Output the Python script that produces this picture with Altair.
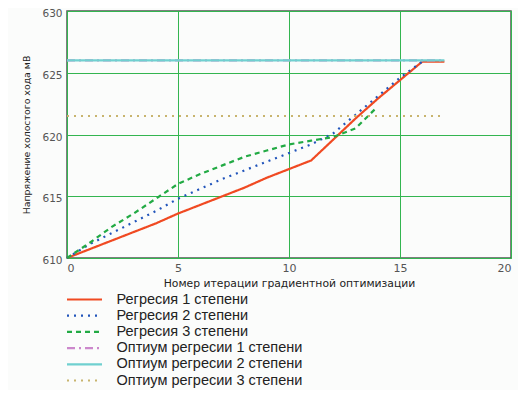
import altair as alt
import pandas as pd

# Series data
x_r1 = [0, 1, 2, 3, 4, 5, 6, 7, 8, 9, 10, 11, 12, 13, 14, 15, 16, 17]
y_r1 = [610.0, 610.7, 611.4, 612.1, 612.8, 613.6, 614.3, 615.0, 615.7, 616.5,
        617.2, 617.9, 619.6, 621.3, 622.9, 624.4, 625.9, 625.9]

x_r2 = [0, 1, 2, 3, 4, 5, 6, 7, 8, 9, 10, 11, 12, 13, 14, 15, 16]
y_r2 = [610.0, 611.1, 612.0, 612.9, 613.8, 614.8, 615.6, 616.4, 617.1, 617.8,
        618.5, 619.2, 620.1, 621.6, 623.1, 624.6, 625.9]

x_r3 = [0, 1, 2, 3, 4, 5, 6, 7, 8, 9, 10, 11, 12, 13, 13.9]
y_r3 = [610.0, 611.2, 612.5, 613.6, 614.8, 616.0, 616.8, 617.5, 618.2, 618.7,
        619.2, 619.5, 619.8, 620.5, 622.1]

x_opt = [0, 17]
y_opt1 = [626.0, 626.0]
y_opt2 = [626.0, 626.0]
y_opt3 = [621.5, 621.5]

names = ["Регресия 1 степени", "Регресия 2 степени", "Регресия 3 степени",
         "Оптиум регресии 1 степени", "Оптиум регресии 2 степени",
         "Оптиум регресии 3 степени"]
colors = ["#f04a22", "#2255bb", "#22aa44", "#cc88cc", "#70d0d0", "#c8b46e"]
dashes = [[1, 0], [2, 5], [5, 4], [8, 4, 2, 4], [1, 0], [2, 5]]
widths = [2.2, 2.2, 2.6, 0.8, 1.0, 1.5]

rows = []
for name, xs, ys in [(names[0], x_r1, y_r1), (names[1], x_r2, y_r2),
                     (names[2], x_r3, y_r3), (names[3], x_opt, y_opt1),
                     (names[4], x_opt, y_opt2), (names[5], x_opt, y_opt3)]:
    for i, (a, b) in enumerate(zip(xs, ys)):
        rows.append({"series": name, "x": a, "y": b, "i": i})
df = pd.DataFrame(rows)

legend = alt.Legend(
    title=None, orient="none", legendX=9, legendY=280,
    symbolType="M-2.5,0L2.5,0", symbolSize=196, symbolStrokeWidth=2,
    labelFont="Liberation Sans", labelFontSize=14.5, labelColor="#222",
    labelOffset=23.5, rowPadding=1.2, padding=0, labelLimit=400,
)

chart = alt.Chart(df).mark_line().encode(
    x=alt.X("x:Q", scale=alt.Scale(domain=[0, 20], nice=False),
            axis=alt.Axis(values=[0, 5, 10, 15, 20],
                          title="Номер итерации градиентной оптимизации")),
    y=alt.Y("y:Q", scale=alt.Scale(domain=[610, 630], nice=False, zero=False),
            axis=alt.Axis(values=[610, 615, 620, 625, 630],
                          title="Напряжение холостого хода мВ")),
    color=alt.Color("series:N", scale=alt.Scale(domain=names, range=colors),
                    legend=legend),
    strokeDash=alt.StrokeDash("series:N", scale=alt.Scale(domain=names, range=dashes),
                              legend=legend),
    strokeWidth=alt.StrokeWidth("series:N", scale=alt.Scale(domain=names, range=widths),
                                legend=None),
    order="i:Q",
).properties(
    width=444, height=247,
    autosize=alt.AutoSizeParams(type="none"),
    padding={"left": 59, "top": 3, "right": 7, "bottom": 132},
    background="#fbfcfb",
).configure_view(
    stroke="#555555", strokeWidth=1.5, fill="#fbfcfb"
).configure_axis(
    grid=True, gridColor="#33b550", gridWidth=1, domain=False, ticks=False,
    labelFont="DejaVu Sans", labelFontSize=11, labelColor="#555",
    titleFont="DejaVu Sans", titleFontSize=10.8, titleFontWeight="normal",
    titleColor="#222",
).configure_axisX(
    labelPadding=4, titlePadding=4
).configure_axisY(
    labelPadding=5, titlePadding=10, titleFontSize=9.4, labelOffset=2.5,
    labelFontSize=10.5
)

chart.save("out.html", embed_options={"renderer": "svg", "actions": False})
